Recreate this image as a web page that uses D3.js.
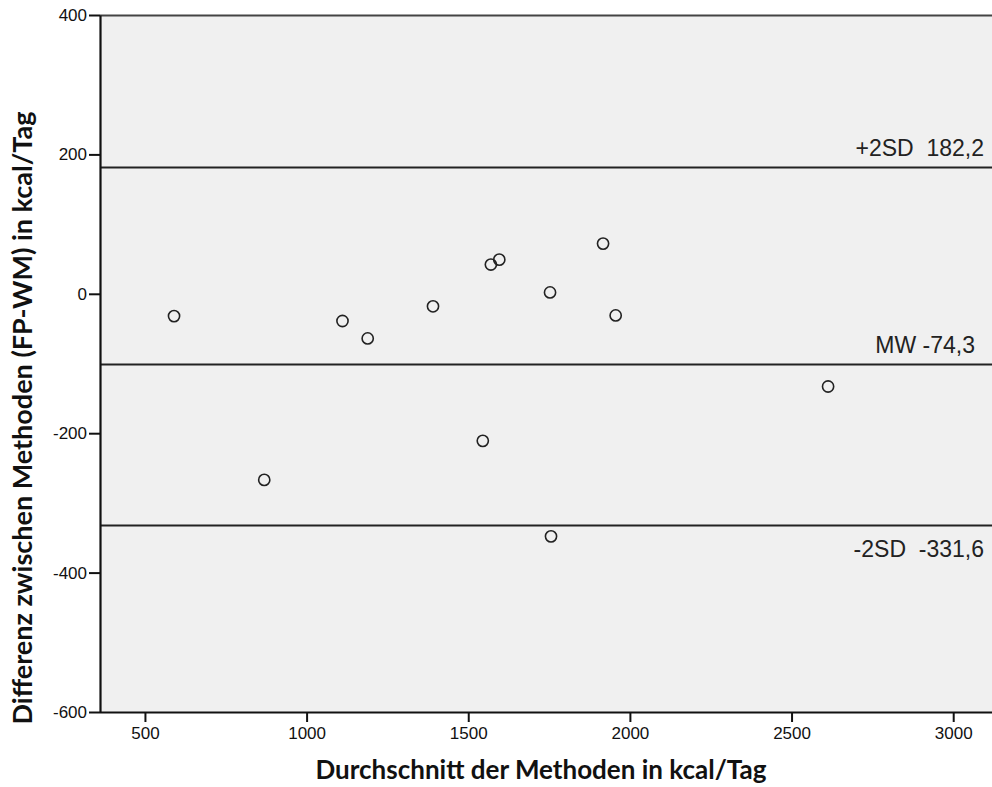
<!DOCTYPE html>
<html>
<head>
<meta charset="utf-8">
<script src="https://cdn.jsdelivr.net/npm/d3@7"></script>
<style>
  html, body { margin: 0; padding: 0; background: #ffffff; }
  svg { display: block; }
  .reflabel { white-space: pre; }
</style>
</head>
<body>
<svg id="chart" width="992" height="787"></svg>
<script>
// ---- data ----
const meanValues = [590, 1111, 1189, 1391, 1570, 1596, 1753, 1917, 1956, 2613, 869, 1545, 1756];
const diffValues = [-32, -39, -64, -18, 42, 49, 2, 72, -31, -133, -267, -211, -348];
const refLineValues = [182.2, -100, -331.6];
const refLineLabels = ["+2SD  182,2", "MW -74,3", "-2SD  -331,6"];
const xTickValues = [500, 1000, 1500, 2000, 2500, 3000];
const yTickValues = [400, 200, 0, -200, -400, -600];
const xTitle = "Durchschnitt der Methoden in kcal/Tag";
const yTitle = "Differenz zwischen Methoden (FP-WM) in kcal/Tag";

// ---- layout ----
const svg = d3.select("#chart");
const mLeft = 100, mRight = 992, mTop = 15, mBottom = 712;

const x = d3.scaleLinear().domain([361, 3120]).range([mLeft, mRight]);
const y = d3.scaleLinear().domain([-600, 400]).range([mBottom, mTop]);

// plot background
svg.append("rect")
  .attr("x", mLeft).attr("y", mTop)
  .attr("width", mRight - mLeft).attr("height", mBottom - mTop)
  .attr("fill", "#f0f0f0");

// top frame line
svg.append("line")
  .attr("x1", mLeft).attr("x2", mRight)
  .attr("y1", mTop + 0.5).attr("y2", mTop + 0.5)
  .attr("stroke", "#444").attr("stroke-width", 2);

// reference lines
const refG = svg.append("g");
refG.selectAll("line").data(refLineValues).join("line")
  .attr("x1", mLeft).attr("x2", mRight)
  .attr("y1", d => Math.round(y(d)) + 0.5)
  .attr("y2", d => Math.round(y(d)) + 0.5)
  .attr("stroke", "#222").attr("stroke-width", 2.2);

refG.selectAll("text").data(refLineValues).join("text")
  .attr("class", "reflabel")
  .attr("x", (d, i) => i === 1 ? 975 : 984)
  .attr("y", (d, i) => i === 2 ? y(d) + 32 : y(d) - 11)
  .attr("text-anchor", "end")
  .attr("font-family", "'Liberation Sans', Arial, sans-serif")
  .attr("font-size", 23)
  .attr("fill", "#222")
  .text((d, i) => refLineLabels[i]);

// points
svg.append("g").selectAll("circle").data(meanValues).join("circle")
  .attr("cx", d => x(d))
  .attr("cy", (d, i) => y(diffValues[i]))
  .attr("r", 5.6)
  .attr("fill", "none")
  .attr("stroke", "#222")
  .attr("stroke-width", 1.6);

// axes
const fmt = d => String(d);
const xAxis = d3.axisBottom(x).tickValues(xTickValues).tickFormat(fmt).tickSize(10).tickPadding(5).tickSizeOuter(0);
const yAxis = d3.axisLeft(y).tickValues(yTickValues).tickFormat(fmt).tickSize(11).tickPadding(2).tickSizeOuter(0);

const gx = svg.append("g").attr("transform", `translate(0,${mBottom})`).call(xAxis);
const gy = svg.append("g").attr("transform", `translate(${mLeft},0)`).call(yAxis);

[gx, gy].forEach(g => {
  g.select(".domain").attr("stroke", "#111").attr("stroke-width", 2.2);
  g.selectAll(".tick line").attr("stroke", "#111").attr("stroke-width", 2);
  g.selectAll(".tick text")
    .attr("font-family", "'Liberation Sans', Arial, sans-serif")
    .attr("font-size", 17)
    .attr("fill", "#111");
});
gx.select(".domain").attr("d", `M${mLeft},0.5H${mRight}`);

// axis titles
svg.append("text")
  .attr("x", (mLeft + mRight) / 2 - 5)
  .attr("y", 779)
  .attr("text-anchor", "middle")
  .attr("font-family", "Lato, 'Open Sans', sans-serif")
  .attr("font-weight", "bold")
  .attr("font-size", 26)
  .attr("fill", "#111")
  .text(xTitle);

svg.append("text")
  .attr("transform", `translate(32,${418}) rotate(-90)`)
  .attr("text-anchor", "middle")
  .attr("font-family", "Lato, 'Open Sans', sans-serif")
  .attr("font-weight", "bold")
  .attr("font-size", 27)
  .attr("fill", "#111")
  .text(yTitle);
</script>
</body>
</html>
